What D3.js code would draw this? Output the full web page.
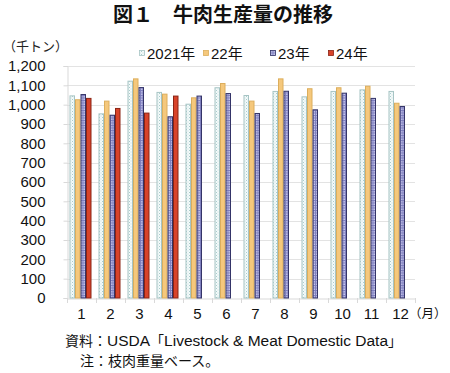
<!DOCTYPE html>
<html>
<head>
<meta charset="utf-8">
<script src="https://cdn.jsdelivr.net/npm/d3@7"></script>
<style>
  body { margin: 0; background: #fff; }
  svg { display: block; font-family: "Liberation Sans", Arial, "Noto Sans CJK JP", sans-serif; }
</style>
</head>
<body>
<svg width="450" height="373"></svg>
<script>
  // DATA
  var months = ["1", "2", "3", "4", "5", "6", "7", "8", "9", "10", "11", "12"];
  var seriesNames = ["2021年", "22年", "23年", "24年"];
  var y2021 = [1048, 955, 1124, 1066, 1005, 1090, 1050, 1071, 1043, 1071, 1079, 1071];
  var y2022 = [1028, 1021, 1136, 1057, 1038, 1112, 1021, 1136, 1085, 1090, 1098, 1010];
  var y2023 = [1055, 948, 1091, 940, 1047, 1060, 957, 1072, 976, 1062, 1035, 993];
  var y2024 = [1035, 983, 959, 1047];
  var yTicks = [0, 100, 200, 300, 400, 500, 600, 700, 800, 900, 1000, 1100, 1200];

  var svg = d3.select("svg");
  var defs = svg.append("defs");

  // patterns
  var p1 = defs.append("pattern").attr("id", "pat2021")
    .attr("width", 3).attr("height", 3).attr("patternUnits", "userSpaceOnUse");
  p1.append("rect").attr("width", 3).attr("height", 3).attr("fill", "#f4fafa");
  p1.append("rect").attr("width", 1).attr("height", 1).attr("fill", "#a9cccc");
  p1.append("rect").attr("x", 1.5).attr("y", 1.5).attr("width", 1).attr("height", 1).attr("fill", "#c4dede");

  var p3 = defs.append("pattern").attr("id", "pat2023")
    .attr("width", 2.5).attr("height", 2.5).attr("patternUnits", "userSpaceOnUse");
  p3.append("rect").attr("width", 2.5).attr("height", 2.5).attr("fill", "#c8c8ec");
  p3.append("rect").attr("width", 2.5).attr("height", 1).attr("fill", "#7c7cbc");
  p3.append("rect").attr("width", 1).attr("height", 2.5).attr("fill", "#7c7cbc");

  var fills = ["url(#pat2021)", "#f5c87c", "url(#pat2023)", "#d8432a"];
  var strokes = ["#a6c4c4", "#dcae5c", "#343468", "#8a2414"];

  var data = [y2021, y2022, y2023, y2024];

  var plotLeft = 67, plotRight = 415, plotTop = 66, plotBottom = 298;

  var x0 = d3.scaleBand().domain(months).range([plotLeft, plotRight]);
  var x1 = d3.scaleBand().domain(seriesNames).range([0, 22]);
  var y = d3.scaleLinear().domain([0, 1200]).range([plotBottom, plotTop]);

  // title
  svg.append("text")
    .attr("x", 223).attr("y", 22)
    .attr("text-anchor", "middle")
    .attr("font-size", 20).attr("font-weight", "bold")
    .attr("font-family", "'Noto Sans CJK JP', sans-serif")
    .attr("fill", "#111")
    .text("図１　牛肉生産量の推移");

  // unit label
  svg.append("text")
    .attr("x", 3).attr("y", 51)
    .attr("font-size", 13)
    .attr("fill", "#222")
    .attr("font-family", "'Noto Sans CJK JP', sans-serif")
    .text("（千トン）");

  // gridlines
  svg.append("g")
    .selectAll("line")
    .data(yTicks.slice(1))
    .enter().append("line")
    .attr("x1", plotLeft).attr("x2", plotRight)
    .attr("y1", function (d) { return Math.round(y(d)) + 0.5; })
    .attr("y2", function (d) { return Math.round(y(d)) + 0.5; })
    .attr("stroke", "#e3e3e3").attr("stroke-width", 1);

  // y axis
  var yAxis = svg.append("g")
    .attr("transform", "translate(" + (plotLeft + 0.5) + ",0)")
    .call(d3.axisLeft(y).tickValues(yTicks).tickSize(4).tickPadding(18)
      .tickFormat(d3.format(",")));
  yAxis.select(".domain").attr("stroke", "#d9d9d9");
  yAxis.selectAll(".tick line").attr("stroke", "#d9d9d9");
  yAxis.selectAll("text").attr("font-size", 15).attr("fill", "#111")
    .attr("font-family", "'Liberation Sans', Arial, sans-serif");

  // x axis
  var xAxis = svg.append("g")
    .attr("transform", "translate(0," + (plotBottom + 0.5) + ")")
    .call(d3.axisBottom(x0).tickSize(0).tickPadding(10));
  xAxis.select(".domain").attr("stroke", "#d9d9d9");
  xAxis.selectAll("text").attr("font-size", 15).attr("fill", "#111")
    .attr("font-family", "'Liberation Sans', Arial, sans-serif");

  // category separator ticks
  var sep = months.map(function (m) { return x0(m); }).concat([plotRight]);
  svg.append("g").selectAll("line")
    .data(sep)
    .enter().append("line")
    .attr("x1", function (d) { return Math.round(d) + 0.5; })
    .attr("x2", function (d) { return Math.round(d) + 0.5; })
    .attr("y1", plotBottom).attr("y2", plotBottom + 5)
    .attr("stroke", "#d9d9d9");

  svg.append("text")
    .attr("x", 409).attr("y", 318)
    .attr("font-size", 12.5)
    .attr("fill", "#111")
    .attr("font-family", "'Noto Sans CJK JP', sans-serif")
    .text("（月）");

  // bars
  var offset = (x0.bandwidth() - 22) / 2 - 1;
  data.forEach(function (vals, si) {
    svg.append("g").selectAll("rect")
      .data(vals)
      .enter().append("rect")
      .attr("x", function (d, i) { return x0(months[i]) + offset + x1(seriesNames[si]) + 0.5; })
      .attr("y", function (d) { return y(d) + 0.5; })
      .attr("width", x1.bandwidth() - 1)
      .attr("height", function (d) { return plotBottom - y(d) - 0.5; })
      .attr("fill", fills[si])
      .attr("stroke", strokes[si])
      .attr("stroke-width", 1);
  });

  // legend
  var legendX = [139, 203, 270, 328];
  var legend = svg.append("g");
  seriesNames.forEach(function (s, i) {
    legend.append("rect")
      .attr("x", legendX[i] + 0.5).attr("y", 50.5)
      .attr("width", 5).attr("height", 5)
      .attr("fill", fills[i])
      .attr("stroke", strokes[i]).attr("stroke-width", 0.8);
    legend.append("text")
      .attr("x", legendX[i] + 8).attr("y", 58.5)
      .attr("font-size", 15).attr("fill", "#111")
      .text(s);
  });

  // notes
  var note1 = svg.append("text")
    .attr("x", 65).attr("y", 346)
    .attr("font-size", 14).attr("fill", "#111");
  note1.append("tspan").text("資料：");
  note1.append("tspan").attr("font-size", 15.5).text("USDA");
  note1.append("tspan").text("「");
  note1.append("tspan").attr("font-size", 15.5).text("Livestock & Meat Domestic Data");
  note1.append("tspan").text("」");
  svg.append("text")
    .attr("x", 80).attr("y", 366)
    .attr("font-size", 14).attr("fill", "#111")
    .text("注：枝肉重量ベース。");
</script>
</body>
</html>
